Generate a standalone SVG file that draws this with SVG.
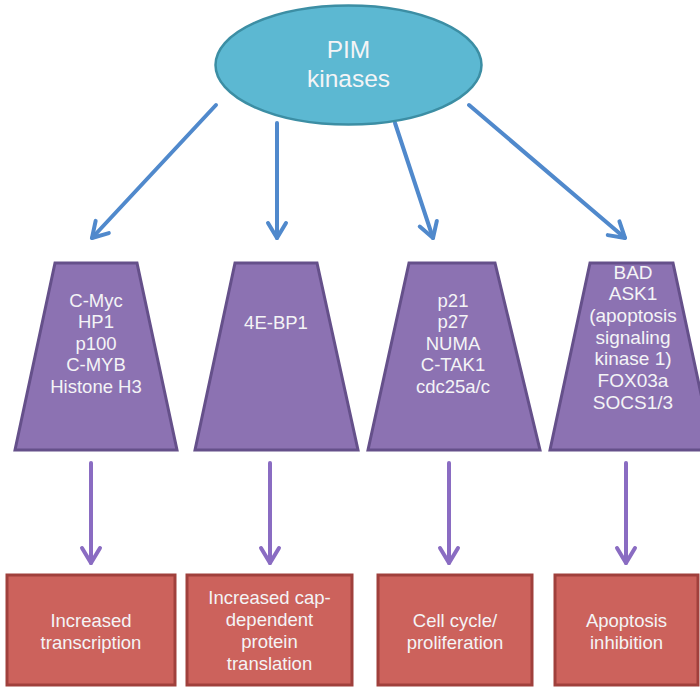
<svg xmlns="http://www.w3.org/2000/svg" width="700" height="687" viewBox="0 0 700 687">
  <defs>
    <marker id="ab" viewBox="-20 -12 24 24" refX="0" refY="0" markerWidth="24" markerHeight="24" markerUnits="userSpaceOnUse" orient="auto">
      <path d="M-15,-9 L0,0 L-15,9" fill="none" stroke="#5089cc" stroke-width="4" stroke-linecap="round" stroke-linejoin="round"/>
    </marker>
    <marker id="ap" viewBox="-20 -12 24 24" refX="0" refY="0" markerWidth="24" markerHeight="24" markerUnits="userSpaceOnUse" orient="auto">
      <path d="M-15,-9 L0,0 L-15,9" fill="none" stroke="#8a6cc2" stroke-width="4" stroke-linecap="round" stroke-linejoin="round"/>
    </marker>
  </defs>
  <style>
    text { font-family: "Liberation Sans", Arial, sans-serif; fill: #f4f4f6; text-anchor: middle; }
    .big { font-size: 24.5px; }
    .t { font-size: 18.5px; }
    .t4 { font-size: 19px; }
    .ell { fill: #5cb8d2; stroke: #3c8ea4; stroke-width: 2.5; }
    .trap { fill: #8c72b2; stroke: #65508a; stroke-width: 3; }
    .box { fill: #cc625c; stroke: #a0403c; stroke-width: 3; }
    .blue { stroke: #5089cc; stroke-width: 4; stroke-linecap: round; fill: none; marker-end: url(#ab); }
    .purp { stroke: #8a6cc2; stroke-width: 4; stroke-linecap: round; fill: none; marker-end: url(#ap); }
  </style>
  <rect width="700" height="687" fill="#ffffff"/>

  <g id="connectors">
    <line class="blue" x1="216" y1="105" x2="92" y2="238"/>
    <line class="blue" x1="277" y1="123" x2="277" y2="238"/>
    <line class="blue" x1="395" y1="123" x2="433" y2="238"/>
    <line class="blue" x1="469" y1="105" x2="625" y2="238"/>
    <line class="purp" x1="91" y1="463" x2="91" y2="563"/>
    <line class="purp" x1="270" y1="463" x2="270" y2="563"/>
    <line class="purp" x1="449" y1="463" x2="449" y2="563"/>
    <line class="purp" x1="626" y1="463" x2="626" y2="563"/>
  </g>

  <g id="pim">
    <ellipse class="ell" cx="348.5" cy="65" rx="133" ry="59.5"/>
    <text class="big" x="348.5" y="58">PIM</text>
    <text class="big" x="348.5" y="87">kinases</text>
  </g>

  <g id="targets1">
    <polygon class="trap" points="55,263 137,263 177,450 15,450"/>
    <text class="t" x="96" y="306.5">C-Myc</text>
    <text class="t" x="96" y="328">HP1</text>
    <text class="t" x="96" y="349.5">p100</text>
    <text class="t" x="96" y="371">C-MYB</text>
    <text class="t" x="96" y="392.5">Histone H3</text>
  </g>

  <g id="targets2">
    <polygon class="trap" points="235,263 317,263 358,450 195,450"/>
    <text class="t" x="276" y="329">4E-BP1</text>
  </g>

  <g id="targets3">
    <polygon class="trap" points="409,263 495,263 540,450 368,450"/>
    <text class="t" x="453" y="306.5">p21</text>
    <text class="t" x="453" y="328">p27</text>
    <text class="t" x="453" y="349.5">NUMA</text>
    <text class="t" x="453" y="371">C-TAK1</text>
    <text class="t" x="453" y="392.5">cdc25a/c</text>
  </g>

  <g id="targets4">
    <polygon class="trap" points="590,263 673,263 713,450 550,450"/>
    <text class="t4" x="633" y="278.5">BAD</text>
    <text class="t4" x="633" y="300.2">ASK1</text>
    <text class="t4" x="633" y="321.9">(apoptosis</text>
    <text class="t4" x="633" y="343.6">signaling</text>
    <text class="t4" x="633" y="365.3">kinase 1)</text>
    <text class="t4" x="633" y="387">FOX03a</text>
    <text class="t4" x="633" y="408.7">SOCS1/3</text>
  </g>

  <g id="outcome1">
    <rect class="box" x="7" y="575" width="168" height="110"/>
    <text class="t" x="91" y="627">Increased</text>
    <text class="t" x="91" y="649">transcription</text>
  </g>

  <g id="outcome2">
    <rect class="box" x="187" y="575" width="165" height="110"/>
    <text class="t" x="269.5" y="604">Increased cap-</text>
    <text class="t" x="269.5" y="626">dependent</text>
    <text class="t" x="269.5" y="648">protein</text>
    <text class="t" x="269.5" y="670">translation</text>
  </g>

  <g id="outcome3">
    <rect class="box" x="378" y="575" width="154" height="110"/>
    <text class="t" x="455" y="627">Cell cycle/</text>
    <text class="t" x="455" y="649">proliferation</text>
  </g>

  <g id="outcome4">
    <rect class="box" x="555" y="575" width="143" height="110"/>
    <text class="t" x="626.5" y="627">Apoptosis</text>
    <text class="t" x="626.5" y="649">inhibition</text>
  </g>
</svg>
